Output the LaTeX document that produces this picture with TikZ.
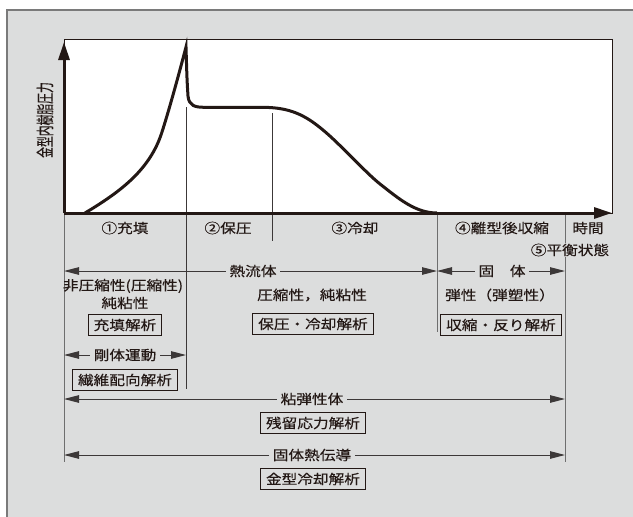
\documentclass[tikz,border=0pt]{standalone}
\usepackage{fontspec}
\setmainfont{Noto Sans CJK JP}[FakeStretch=1.16,FakeBold=0.3]
\newfontfamily\ylabfont{Noto Sans CJK JP}[FakeStretch=0.6,FakeBold=0.3]
\usetikzlibrary{arrows.meta}
\definecolor{panel}{HTML}{DCDDDD}
\definecolor{ink}{HTML}{231815}
\definecolor{frame}{HTML}{7A7A7A}
\definecolor{vdark}{HTML}{3C3838}
\definecolor{vgray}{HTML}{6E6E6E}
\begin{document}
\begin{tikzpicture}[x=1pt,y=-1pt,
  lbl/.style={font=\fontsize{13.5}{14}\selectfont, text=ink, inner sep=0pt},
  onlbl/.style={lbl, fill=panel, inner xsep=3.5pt, inner ysep=1pt},
  boxlbl/.style={lbl, draw=ink, line width=1.3pt, inner xsep=5.5pt, minimum height=21pt},
  dimline/.style={draw=vdark, line width=1pt, -{Triangle[length=15pt,width=7.5pt]}},
  axisline/.style={draw=ink, line width=3pt, -{Triangle[length=18pt,width=11pt]}},
  curveline/.style={draw=ink, line width=3pt, line join=miter, miter limit=20},
  vdk/.style={draw=vdark, line width=0.9pt},
  vgr/.style={draw=vgray, line width=0.9pt},
]
\useasboundingbox (0,0) rectangle (633,517);
% panel
\fill[panel] (7,10) rectangle (640,520);
\draw[frame, line width=1.3pt] (7,520) -- (7,10) -- (640,10);
% plot area
\draw[ink, line width=0.8pt, fill=white] (64,39.5) rectangle (612,213);

% coordinates
\coordinate (O) at (64,213);
\coordinate (ytop) at (64,42);
\coordinate (xend) at (612,213);
\coordinate (v0b) at (64,462);
\coordinate (v1a) at (186,107);
\coordinate (v1b) at (186,389);
\coordinate (v2a) at (272,113);
\coordinate (v2b) at (272,241);
\coordinate (v3a) at (437,213);
\coordinate (v3b) at (437,332);
\coordinate (v4a) at (565,213);
\coordinate (v4b) at (565,462);

% vertical lines
\draw[vgr] (O) -- (v0b);
\draw[vdk] (v1a) -- (v1b);
\draw[vdk] (v2a) -- (v2b);
\draw[vgr] (v3a) -- (v3b);
\draw[vgr] (v4a) -- (v4b);

% curve
\draw[curveline] (85,213) .. controls (120,192) and (150,170) .. (162,132)
  .. controls (170,107) and (180,70) .. (186,47)
  .. controls (187,80) .. (188,96)
  .. controls (189,106) and (195,107.3) .. (205,107.3)
  -- (262,107.3)
  .. controls (290,107.3) and (305,115) .. (323,130)
  .. controls (340,144) and (365,172) .. (380,184)
  .. controls (398,198) and (415,213) .. (437,213);

% axes
\draw[axisline] (O) -- (ytop);
\draw[axisline] (O) -- (xend);

% y label
\node[rotate=90, text=ink, inner sep=0pt, font=\ylabfont\fontsize{18}{18}\selectfont] (ylab) at (45,120) {金型内樹脂圧力};

% phase labels
\node[lbl] (p1) at (125,228) {①充填};
\node[lbl] (p2) at (228,228) {②保圧};
\node[lbl] (p3) at (355,228) {③冷却};
\node[lbl] (p4) at (502,228) {④離型後収縮};
\node[lbl] (time) at (588,228) {時間};
\node[onlbl] (p5) at (570,250) {⑤平衡状態};

% 熱流体
\coordinate (a1L) at (64,271);
\coordinate (a1R) at (437,271);
\node[onlbl] (l1) at (253,271) {熱流体};
\draw[dimline] (l1.west) -- (a1L);
\draw[dimline] (l1.east) -- (a1R);

% 固体
\coordinate (a2L) at (437,271);
\coordinate (a2R) at (565,271);
\node[onlbl] (l2) at (502,271) {固　体};
\draw[dimline] (l2.west) -- (a2L);
\draw[dimline] (l2.east) -- (a2R);

\node[lbl] (t1) at (123,286) {非圧縮性(圧縮性)};
\node[lbl] (t2) at (125,303) {純粘性};
\node[boxlbl] (b1) at (125,325) {充填解析};

\node[lbl] (t3) at (312,295) {圧縮性，純粘性};
\node[boxlbl] (b2) at (313,324) {保圧・冷却解析};

\node[lbl] (t4) at (500,295) {弾性（弾塑性）};
\node[boxlbl] (b3) at (501,325) {収縮・反り解析};

% 剛体運動
\coordinate (a3L) at (64,355);
\coordinate (a3R) at (186,355);
\node[onlbl] (l3) at (125,355) {剛体運動};
\draw[dimline] (l3.west) -- (a3L);
\draw[dimline] (l3.east) -- (a3R);
\node[boxlbl] (b4) at (125,380) {繊維配向解析};

% 粘弾性体
\coordinate (a4L) at (64,399);
\coordinate (a4R) at (565,399);
\node[onlbl] (l4) at (312,399) {粘弾性体};
\draw[dimline] (l4.west) -- (a4L);
\draw[dimline] (l4.east) -- (a4R);
\node[boxlbl] (b5) at (313,423) {残留応力解析};

% 固体熱伝導
\coordinate (a5L) at (64,455);
\coordinate (a5R) at (565,455);
\node[onlbl] (l5) at (312,455) {固体熱伝導};
\draw[dimline] (l5.west) -- (a5L);
\draw[dimline] (l5.east) -- (a5R);
\node[boxlbl] (b6) at (313,479) {金型冷却解析};
\end{tikzpicture}
\end{document}
